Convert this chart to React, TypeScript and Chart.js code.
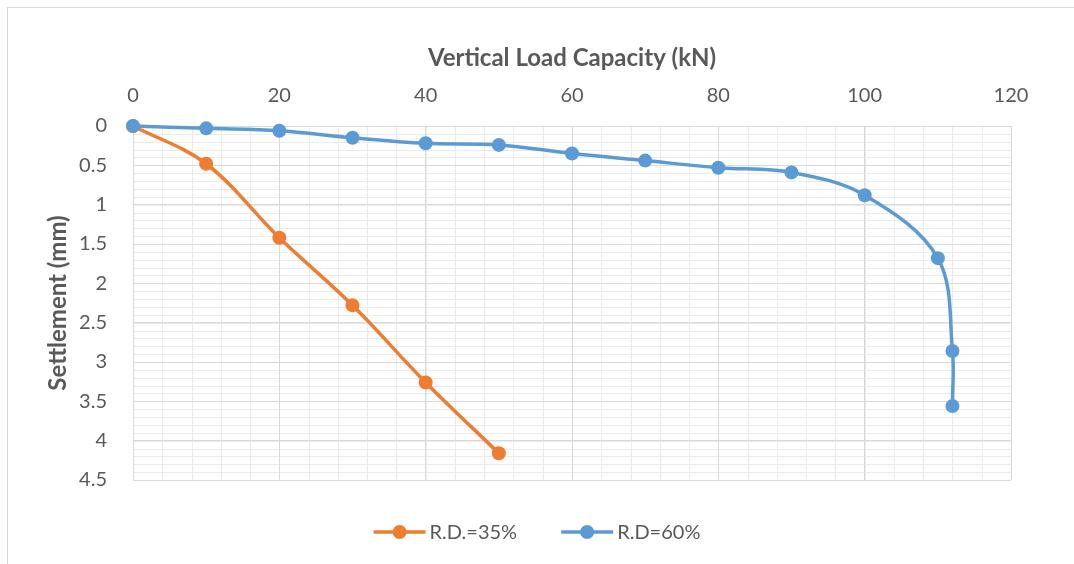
import React, { useEffect, useRef } from "react";
import { Chart, registerables } from "chart.js";

Chart.register(...registerables);

// Load (kN) and settlement (mm) readings for each relative density
const loadRD35 = [0, 10, 20, 30, 40, 50];
const settlementRD35 = [0, 0.48, 1.42, 2.28, 3.26, 4.16];

const loadRD60 = [0, 10, 20, 30, 40, 50, 60, 70, 80, 90, 100, 110, 112, 112];
const settlementRD60 = [0, 0.03, 0.06, 0.15, 0.22, 0.24, 0.35, 0.44, 0.53, 0.59, 0.88, 1.68, 2.86, 3.56];

const seriesLabels = ["R.D.=35%", "R.D=60%"];
const seriesColors = ["#ED7D31", "#5B9BD5"];

const loadAxis = { min: 0, max: 120, major: 20, minor: 4 };
const settlementAxis = { min: 0, max: 4.5, major: 0.5, minor: 0.1 };

const FONT = "Lato, 'Noto Sans', sans-serif";
const TEXT = "#595959";

const toPoints = (xs: number[], ys: number[]) => xs.map((x, i) => ({ x, y: ys[i] }));

// Frame around the whole chart plus the light minor grid under the major one
const backdropPlugin = {
  id: "backdrop",
  beforeDraw(chart: any) {
    const { ctx, chartArea } = chart;
    const xs = chart.scales.x;
    const ys = chart.scales.y;
    ctx.save();
    ctx.strokeStyle = "#D9D9D9";
    ctx.lineWidth = 1;
    ctx.strokeRect(7.5, 7.5, 1200, 700);

    ctx.strokeStyle = "#EBEBEB";
    ctx.lineWidth = 1;
    ctx.beginPath();
    for (let v = loadAxis.min; v <= loadAxis.max + 1e-9; v += loadAxis.minor) {
      const px = Math.round(xs.getPixelForValue(v)) + 0.5;
      ctx.moveTo(px, chartArea.top);
      ctx.lineTo(px, chartArea.bottom);
    }
    for (let i = 0; i <= Math.round((settlementAxis.max - settlementAxis.min) / settlementAxis.minor); i++) {
      const v = settlementAxis.min + i * settlementAxis.minor;
      const py = Math.round(ys.getPixelForValue(v)) + 0.5;
      ctx.moveTo(chartArea.left, py);
      ctx.lineTo(chartArea.right, py);
    }
    ctx.stroke();
    ctx.restore();
  },
};

// Bottom legend with a line-and-marker swatch for each series
const legendPlugin = {
  id: "lineMarkerLegend",
  afterDraw(chart: any) {
    const { ctx } = chart;
    ctx.save();
    ctx.font = `20px ${FONT}`;
    const lineLen = 52;
    const textGap = 4;
    const itemGap = 44;
    const items = chart.data.datasets.map((ds: any) => ({
      label: ds.label as string,
      color: ds.borderColor as string,
      w: ctx.measureText(ds.label).width,
    }));
    const total =
      items.reduce((s: number, it: any) => s + lineLen + textGap + it.w, 0) + itemGap * (items.length - 1);
    let x = chart.width / 2 - total / 2;
    const y = 532;
    for (const it of items) {
      ctx.strokeStyle = it.color;
      ctx.lineWidth = 3.5;
      ctx.beginPath();
      ctx.moveTo(x, y);
      ctx.lineTo(x + lineLen, y);
      ctx.stroke();
      ctx.fillStyle = it.color;
      ctx.beginPath();
      ctx.arc(x + lineLen / 2, y, 7, 0, Math.PI * 2);
      ctx.fill();
      ctx.fillStyle = TEXT;
      ctx.textAlign = "left";
      ctx.textBaseline = "middle";
      ctx.fillText(it.label, x + lineLen + textGap, y + 1);
      x += lineLen + textGap + it.w + itemGap;
    }
    ctx.restore();
  },
};

export default function App() {
  const canvasRef = useRef<HTMLCanvasElement | null>(null);

  useEffect(() => {
    if (!canvasRef.current) return;
    const lineStyle = (i: number) => ({
      borderColor: seriesColors[i],
      backgroundColor: seriesColors[i],
      borderWidth: 3.5,
      pointRadius: 7,
      pointHoverRadius: 7,
      pointBorderWidth: 0,
      showLine: true,
      tension: 0.35,
      clip: false,
    });
    const chart = new Chart(canvasRef.current, {
      type: "scatter",
      data: {
        datasets: [
          { label: seriesLabels[0], data: toPoints(loadRD35, settlementRD35), order: 2, ...lineStyle(0) },
          { label: seriesLabels[1], data: toPoints(loadRD60, settlementRD60), order: 1, ...lineStyle(1) },
        ],
      },
      options: {
        animation: false,
        responsive: false,
        devicePixelRatio: 1,
        layout: { padding: { left: 0, top: 0, right: 63, bottom: 84 } },
        plugins: { legend: { display: false }, tooltip: { enabled: false } },
        scales: {
          x: {
            type: "linear",
            position: "top",
            min: loadAxis.min,
            max: loadAxis.max,
            afterFit: (s: any) => {
              s.height = 126;
            },
            ticks: {
              stepSize: loadAxis.major,
              color: TEXT,
              font: { family: FONT, size: 20 },
              padding: 18,
              callback: (v: any) => String(v),
            },
            grid: { color: "#D9D9D9", lineWidth: 1, drawTicks: false },
            border: { display: true, color: "#D9D9D9" },
            title: {
              display: true,
              text: "Vertical Load Capacity (kN)",
              color: TEXT,
              font: { family: FONT, size: 24, weight: "bold" },
              padding: { top: 44, bottom: 0 },
            },
          },
          y: {
            type: "linear",
            reverse: true,
            min: settlementAxis.min,
            max: settlementAxis.max,
            afterFit: (s: any) => {
              s.width = 133;
            },
            ticks: {
              stepSize: settlementAxis.major,
              color: TEXT,
              font: { family: FONT, size: 20 },
              padding: 26,
              callback: (v: any) => String(v),
            },
            grid: { color: "#D9D9D9", lineWidth: 1, drawTicks: false },
            border: { display: true, color: "#D9D9D9" },
            title: {
              display: true,
              text: "Settlement (mm)",
              color: TEXT,
              font: { family: FONT, size: 24, weight: "bold" },
              padding: { top: 44, bottom: 0 },
            },
          },
        },
      },
      plugins: [backdropPlugin, legendPlugin],
    } as any);
    return () => chart.destroy();
  }, []);

  return (
    <div style={{ position: "fixed", left: 0, top: 0, width: 1074, height: 564, background: "#fff" }}>
      <canvas ref={canvasRef} width={1074} height={564} />
    </div>
  );
}
